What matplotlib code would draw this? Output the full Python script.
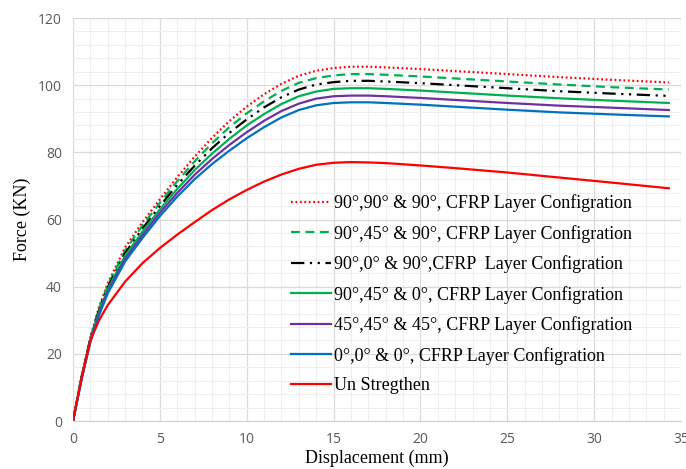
import matplotlib
matplotlib.use("Agg")
import matplotlib.pyplot as plt
from matplotlib.ticker import MultipleLocator

disp = [0, 0.5, 1, 1.5, 2, 3, 4, 5, 6, 7, 8, 9, 10, 11, 12, 13, 14, 15, 16, 17, 18, 20, 22, 25, 28, 31, 34.3]

f_909090 = [0, 13.5, 25, 34, 41, 51.7, 59.2, 66.0, 72.6, 78.7, 84.3, 89.3, 93.6, 97.3, 100.4, 102.8, 104.3, 105.1, 105.5, 105.5, 105.3, 104.8, 104.2, 103.3, 102.4, 101.6, 100.8]
f_904590 = [0, 13.3, 24.7, 33.5, 40.4, 50.8, 58.2, 65.0, 71.4, 77.3, 82.7, 87.5, 91.6, 95.2, 98.3, 100.7, 102.1, 102.9, 103.3, 103.3, 103.1, 102.6, 102.0, 101.1, 100.2, 99.4, 98.7]
f_90090 = [0, 13.1, 24.4, 33.0, 39.8, 50.0, 57.3, 64.0, 70.3, 76.0, 81.2, 85.8, 89.8, 93.4, 96.4, 98.7, 100.2, 100.9, 101.3, 101.3, 101.1, 100.6, 100.0, 99.1, 98.2, 97.5, 96.8]
f_90450 = [0, 12.9, 24.1, 32.5, 39.2, 49.2, 56.4, 63.0, 69.1, 74.7, 79.6, 84.0, 88.0, 91.4, 94.4, 96.7, 98.1, 98.9, 99.1, 99.1, 98.9, 98.4, 97.8, 96.9, 96.1, 95.4, 94.7]
f_454545 = [0, 12.7, 23.8, 32.0, 38.6, 48.3, 55.4, 62.0, 67.9, 73.3, 78.0, 82.2, 86.0, 89.4, 92.3, 94.5, 96.0, 96.7, 96.9, 96.9, 96.7, 96.2, 95.6, 94.7, 93.9, 93.3, 92.6]
f_000 = [0, 12.5, 23.5, 31.5, 38, 47.5, 54.5, 61, 66.8, 72, 76.5, 80.5, 84.2, 87.5, 90.4, 92.6, 94, 94.7, 94.9, 94.9, 94.7, 94.2, 93.6, 92.7, 91.9, 91.3, 90.7]
f_unstr = [0, 13, 24, 30, 34.5, 41.5, 47, 51.5, 55.5, 59.2, 62.8, 66, 68.8, 71.3, 73.4, 75.1, 76.3, 76.9, 77.1, 77, 76.8, 76.1, 75.3, 74, 72.5, 71, 69.3]

labels = [
    "90°,90° & 90°, CFRP Layer Configration",
    "90°,45° & 90°, CFRP Layer Configration",
    "90°,0° & 90°,CFRP  Layer Configration",
    "90°,45° & 0°, CFRP Layer Configration",
    "45°,45° & 45°, CFRP Layer Configration",
    "0°,0° & 0°, CFRP Layer Configration",
    "Un Stregthen",
]

fig = plt.figure(figsize=(6.86, 4.69), dpi=100)
ax = fig.add_axes([0.1064, 0.1023, 0.8863, 0.8593])

lw = 1.6
ax.plot(disp, f_909090, color="#FF0000", lw=lw, linestyle=(0, (0.8, 1.2)), label=labels[0])
ax.plot(disp, f_904590, color="#00B050", lw=lw, linestyle=(0, (4, 2.5)), label=labels[1])
ax.plot(disp, f_90090, color="black", lw=lw, linestyle=(0, (6, 2.5, 1, 2.5, 1, 2.5)), label=labels[2])
ax.plot(disp, f_90450, color="#00B050", lw=lw, label=labels[3])
ax.plot(disp, f_454545, color="#7030A0", lw=lw, label=labels[4])
ax.plot(disp, f_000, color="#0070C0", lw=lw, label=labels[5])
ax.plot(disp, f_unstr, color="#FF0000", lw=lw, label=labels[6])

ax.set_xlim(0, 35)
ax.set_ylim(0, 120)
ax.xaxis.set_major_locator(MultipleLocator(5))
ax.xaxis.set_minor_locator(MultipleLocator(1))
ax.yaxis.set_major_locator(MultipleLocator(20))
ax.yaxis.set_minor_locator(MultipleLocator(4))
ax.grid(which="major", color="#d9d9d9", lw=0.9)
ax.grid(which="minor", color="#efefef", lw=0.8)
ax.set_axisbelow(True)
for s in ["top", "right", "left"]:
    ax.spines[s].set_visible(False)
ax.spines["bottom"].set_color("#d0d0d0")
ax.tick_params(which="both", length=0, colors="#595959", labelsize=10, pad=8)
for t in ax.get_xticklabels() + ax.get_yticklabels():
    t.set_fontfamily("Open Sans")

ax.set_xlabel("Displacement (mm)", family="Liberation Serif", fontsize=13, labelpad=2)
ax.set_ylabel("Force (KN)", family="Liberation Serif", fontsize=13, labelpad=5)

leg = ax.legend(loc="upper left", bbox_to_anchor=(0.332, 0.603), frameon=False,
                prop={"family": "Liberation Serif", "size": 13},
                handlelength=2.2, handletextpad=0.2, labelspacing=0.7)

fig.savefig("out.png", dpi=100)
